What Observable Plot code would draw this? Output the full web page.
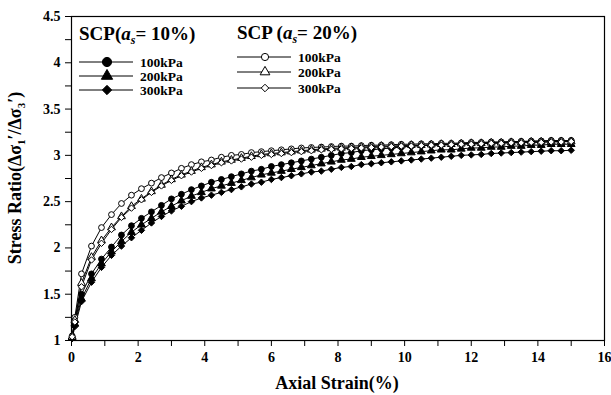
<!DOCTYPE html>
<html>
<head>
<meta charset="utf-8">
<script src="https://cdn.jsdelivr.net/npm/d3@7"></script>
<script src="https://cdn.jsdelivr.net/npm/@observablehq/plot@0.6"></script>
<style>
  html, body { margin: 0; padding: 0; background: #fff; }
  #chart { width: 611px; height: 395px; }
  svg { font-family: "Liberation Serif", "Times New Roman", serif; }
</style>
</head>
<body>
<div id="chart"></div>
<script>
const strain = [0.02, 0.1, 0.3, 0.6, 0.9, 1.2, 1.5, 1.8, 2.1, 2.4, 2.7, 3.0, 3.3, 3.6, 3.9, 4.2, 4.5, 4.8, 5.1, 5.4, 5.7, 6.0, 6.3, 6.6, 6.9, 7.2, 7.5, 7.8, 8.1, 8.4, 8.7, 9.0, 9.3, 9.6, 9.9, 10.2, 10.5, 10.8, 11.1, 11.4, 11.7, 12.0, 12.3, 12.6, 12.9, 13.2, 13.5, 13.8, 14.1, 14.4, 14.7, 15.0];

// SCP (a_s = 10%)
const s10_100 = [1.03, 1.20, 1.50, 1.72, 1.88, 2.01, 2.14, 2.24, 2.32, 2.39, 2.46, 2.53, 2.58, 2.63, 2.67, 2.71, 2.74, 2.77, 2.80, 2.83, 2.85, 2.88, 2.90, 2.92, 2.94, 2.96, 2.98, 3.00, 3.02, 3.03, 3.05, 3.06, 3.07, 3.08, 3.09, 3.10, 3.105, 3.11, 3.115, 3.12, 3.125, 3.13, 3.135, 3.14, 3.14, 3.145, 3.15, 3.15, 3.155, 3.16, 3.16, 3.16];
const s10_200 = [1.03, 1.18, 1.45, 1.67, 1.83, 1.96, 2.07, 2.17, 2.25, 2.32, 2.39, 2.45, 2.51, 2.56, 2.60, 2.64, 2.67, 2.70, 2.73, 2.76, 2.79, 2.81, 2.83, 2.85, 2.87, 2.89, 2.91, 2.93, 2.95, 2.96, 2.98, 2.99, 3.00, 3.01, 3.02, 3.03, 3.04, 3.05, 3.06, 3.06, 3.07, 3.08, 3.08, 3.09, 3.09, 3.10, 3.10, 3.11, 3.11, 3.12, 3.12, 3.12];
const s10_300 = [1.02, 1.15, 1.42, 1.63, 1.79, 1.92, 2.02, 2.11, 2.19, 2.27, 2.34, 2.40, 2.45, 2.50, 2.54, 2.57, 2.60, 2.63, 2.66, 2.69, 2.71, 2.74, 2.76, 2.78, 2.80, 2.82, 2.83, 2.85, 2.87, 2.88, 2.90, 2.91, 2.92, 2.93, 2.94, 2.95, 2.96, 2.97, 2.98, 2.99, 3.00, 3.005, 3.01, 3.02, 3.025, 3.03, 3.035, 3.04, 3.045, 3.05, 3.05, 3.055];

// SCP (a_s = 20%)
const s20_100 = [1.05, 1.25, 1.72, 2.02, 2.22, 2.36, 2.48, 2.57, 2.64, 2.70, 2.76, 2.81, 2.86, 2.90, 2.93, 2.95, 2.98, 3.00, 3.01, 3.03, 3.04, 3.05, 3.06, 3.07, 3.08, 3.085, 3.09, 3.095, 3.10, 3.10, 3.105, 3.11, 3.11, 3.115, 3.12, 3.12, 3.125, 3.125, 3.13, 3.13, 3.135, 3.14, 3.14, 3.145, 3.145, 3.15, 3.15, 3.155, 3.155, 3.16, 3.16, 3.16];
const s20_200 = [1.04, 1.22, 1.62, 1.90, 2.08, 2.22, 2.34, 2.45, 2.53, 2.61, 2.68, 2.74, 2.79, 2.83, 2.87, 2.90, 2.93, 2.95, 2.97, 2.99, 3.01, 3.02, 3.03, 3.04, 3.05, 3.06, 3.07, 3.075, 3.08, 3.085, 3.09, 3.095, 3.10, 3.10, 3.105, 3.11, 3.11, 3.115, 3.12, 3.12, 3.125, 3.13, 3.13, 3.135, 3.135, 3.14, 3.14, 3.145, 3.145, 3.15, 3.15, 3.15];
const s20_300 = [1.04, 1.20, 1.58, 1.87, 2.05, 2.20, 2.33, 2.43, 2.52, 2.60, 2.67, 2.73, 2.78, 2.82, 2.86, 2.89, 2.92, 2.94, 2.96, 2.98, 3.00, 3.01, 3.02, 3.03, 3.04, 3.05, 3.06, 3.065, 3.07, 3.075, 3.08, 3.085, 3.09, 3.095, 3.10, 3.10, 3.105, 3.11, 3.11, 3.115, 3.12, 3.12, 3.125, 3.13, 3.13, 3.135, 3.135, 3.14, 3.14, 3.145, 3.145, 3.15];

const seriesNames = ["10-100", "10-200", "10-300", "20-100", "20-200", "20-300"];
const seriesValues = [s10_100, s10_200, s10_300, s20_100, s20_200, s20_300];
const legendLabels = ["100kPa", "200kPa", "300kPa"];

const xTicksMajor = [0, 2, 4, 6, 8, 10, 12, 14, 16];
const xTicksMinor = [1, 3, 5, 7, 9, 11, 13, 15];
const yTicksMajor = [1, 1.5, 2, 2.5, 3, 3.5, 4, 4.5];
const yTicksMinor = [1.25, 1.75, 2.25, 2.75, 3.25, 3.75, 4.25];

const symbolOf = {"10-100": "circle", "10-200": "triangle", "10-300": "diamond2",
                  "20-100": "circle", "20-200": "triangle", "20-300": "diamond2"};
const filled = {"10-100": true, "10-200": true, "10-300": true, "20-100": false, "20-200": false, "20-300": false};

const data = [];
seriesNames.forEach((name, i) => {
  const vals = seriesValues[i];
  const n = Math.min(vals.length, strain.length);
  for (let k = 0; k < n; k++) data.push({series: name, x: strain[k], y: vals[k]});
});

const tickFont = {fontSize: "14px", fontWeight: "bold", fontFamily: "Liberation Serif, serif"};

const dotMarks = seriesNames.map(name => Plot.dot(data.filter(d => d.series === name), {
  x: "x", y: "y", symbol: () => symbolOf[name], r: 2.9,
  fill: filled[name] ? "black" : "white", stroke: "black", strokeWidth: 1
}));

const plot = Plot.plot({
  width: 611, height: 395,
  marginLeft: 71, marginRight: 7, marginTop: 16, marginBottom: 55,
  x: {domain: [0, 16]},
  y: {domain: [1, 4.5]},
  style: {background: "white", color: "black"},
  marks: [
    Plot.axisX({ticks: xTicksMajor, tickSize: 6, tickPadding: 6, label: null, tickFormat: d => d, ...tickFont, stroke: "black"}),
    Plot.axisX({ticks: xTicksMinor, tickSize: 6, label: null, tickFormat: () => "", stroke: "black"}),
    Plot.axisY({ticks: yTicksMajor, tickSize: 6, tickPadding: 5, label: null, tickFormat: d => d, ...tickFont, stroke: "black"}),
    Plot.axisY({ticks: yTicksMinor, tickSize: 6, label: null, tickFormat: () => "", stroke: "black"}),
    Plot.frame({stroke: "black", strokeWidth: 1.2}),
    Plot.line(data, {x: "x", y: "y", z: "series", stroke: "black", strokeWidth: 1}),
    ...dotMarks
  ]
});

document.getElementById("chart").appendChild(plot);

// Titles & legend added to the svg
const svg = d3.select(plot);
const serif = "Liberation Serif, Times New Roman, serif";

// X axis label
svg.append("text")
  .attr("x", 337).attr("y", 389)
  .attr("text-anchor", "middle")
  .attr("font-family", serif).attr("font-weight", "bold").attr("font-size", 18)
  .text("Axial Strain(%)");

// Y axis label
const yl = svg.append("text")
  .attr("transform", "translate(21,178) rotate(-90)")
  .attr("text-anchor", "middle")
  .attr("font-family", serif).attr("font-weight", "bold").attr("font-size", 18);
yl.append("tspan").text("Stress Ratio(Δσ");
yl.append("tspan").attr("font-size", 11).attr("dy", 4).text("1");
yl.append("tspan").attr("dy", -4).text("′/Δσ");
yl.append("tspan").attr("font-size", 11).attr("dy", 4).text("3");
yl.append("tspan").attr("dy", -4).text("′)");

// Legend
const legendSymbolR = {"10-100": 4.6, "10-200": 4.2, "10-300": 4.2, "20-100": 3.6, "20-200": 3.6, "20-300": 3.4};
function legendGroup(x0, yTitle, rows, names, numText) {
  const t = svg.append("text")
    .attr("x", x0).attr("y", yTitle)
    .attr("text-anchor", "start")
    .attr("font-family", serif).attr("font-weight", "bold").attr("font-size", 19);
  t.append("tspan").text(numText[0]);
  t.append("tspan").attr("font-style", "italic").text("a");
  t.append("tspan").attr("font-style", "italic").attr("font-size", 12).attr("dy", 4).text("s");
  t.append("tspan").attr("dy", -4).text(numText[1]);
  names.forEach((name, i) => {
    const y = rows[i];
    svg.append("line").attr("x1", x0).attr("x2", x0 + 54).attr("y1", y).attr("y2", y)
      .attr("stroke", "black").attr("stroke-width", 1);
    const symType = {circle: d3.symbolCircle, triangle: d3.symbolTriangle, diamond2: d3.symbolDiamond2}[symbolOf[name]];
    const rr = legendSymbolR[name];
    svg.append("path")
      .attr("d", d3.symbol(symType, Math.PI * rr * rr)())
      .attr("transform", `translate(${x0 + 28},${y})`)
      .attr("fill", filled[name] ? "black" : "white")
      .attr("stroke", "black").attr("stroke-width", 1);
    svg.append("text")
      .attr("x", x0 + 61).attr("y", y + 5)
      .attr("text-anchor", "start")
      .attr("font-family", serif).attr("font-weight", "bold").attr("font-size", 13.5)
      .text(legendLabels[i]);
  });
}
legendGroup(79, 40, [62, 76, 90], seriesNames.slice(0, 3), ["SCP(", "= 10%)"]);
legendGroup(237, 39, [57, 72, 88], seriesNames.slice(3), ["SCP (", "= 20%)"]);
</script>
</body>
</html>
